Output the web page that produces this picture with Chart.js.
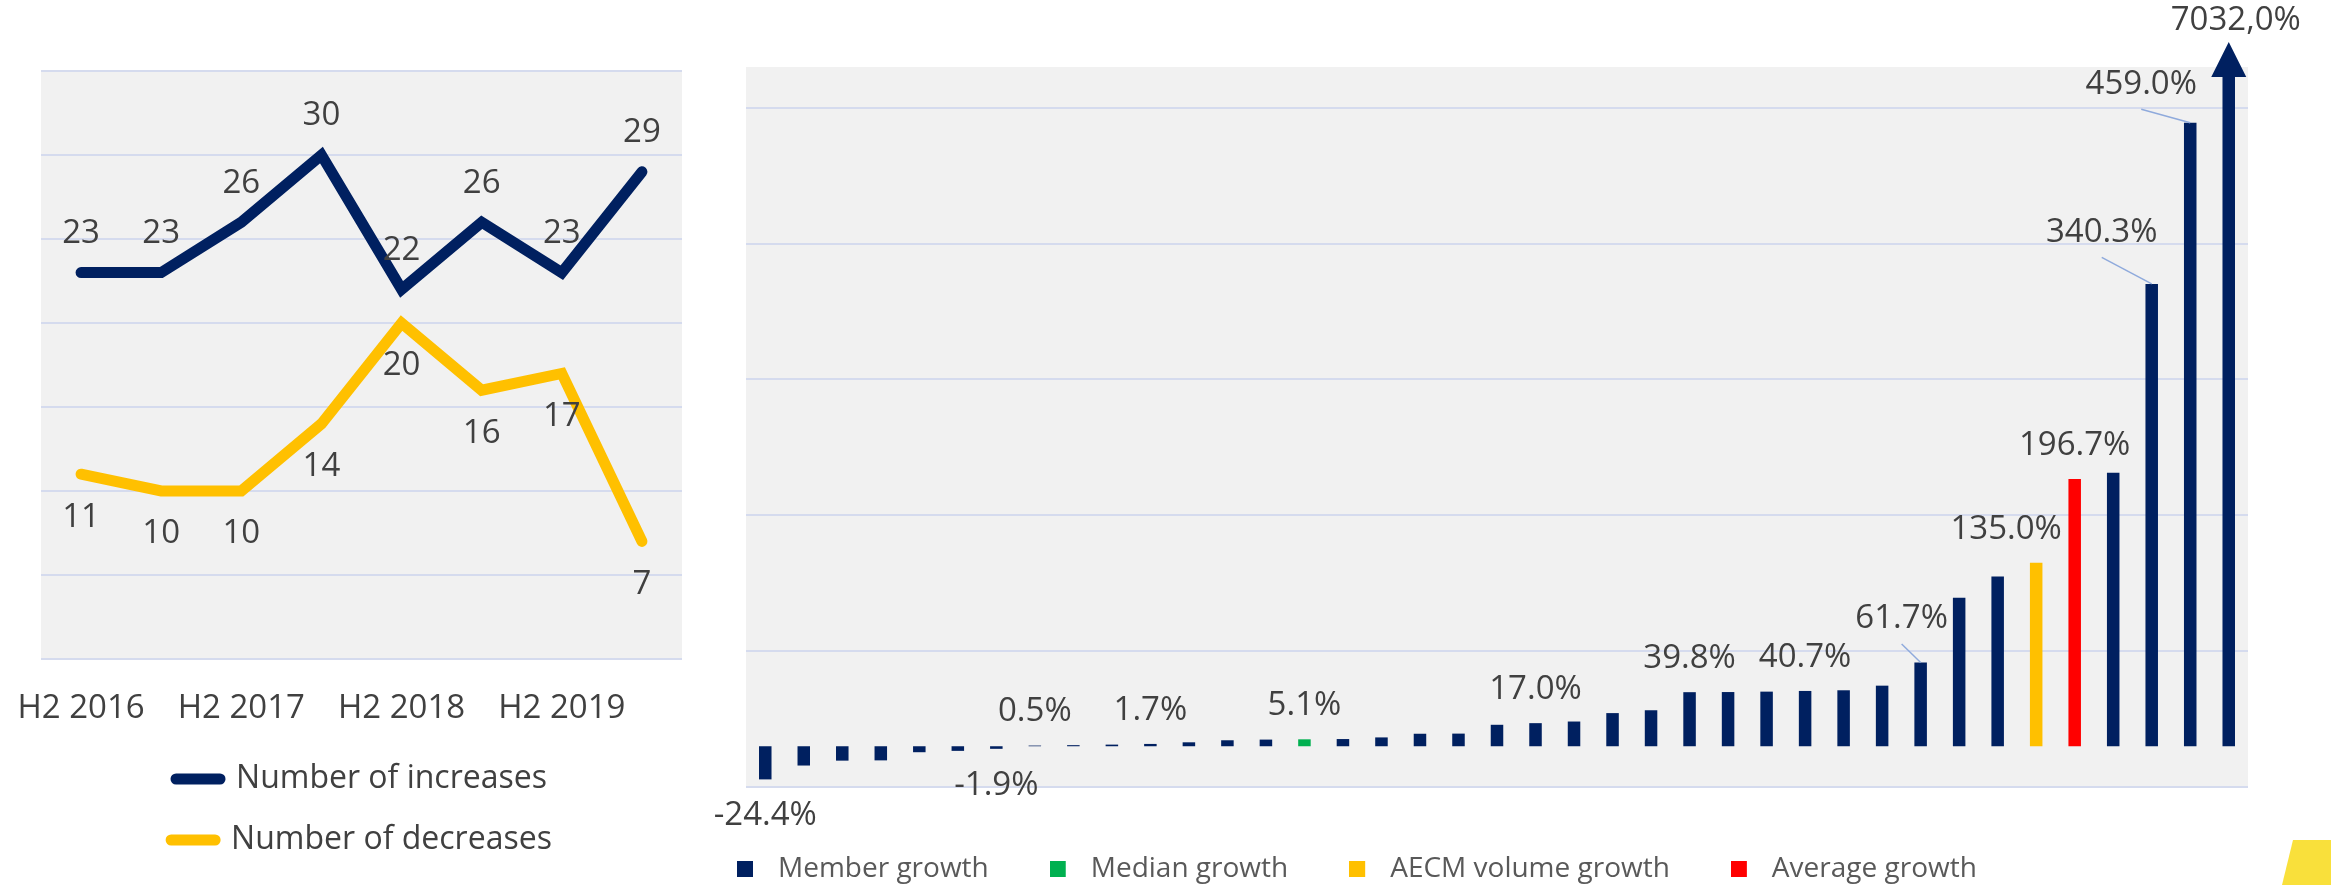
<!DOCTYPE html>
<html>
<head>
<meta charset="utf-8">
<title>Member growth overview</title>
<script src="https://cdn.jsdelivr.net/npm/chart.js@4.4.1/dist/chart.umd.min.js"></script>
<style>
  html, body { margin: 0; padding: 0; background: #ffffff; overflow: hidden; width: 2331px; height: 885px; }
  #trend { position: absolute; left: 0; top: 0; }
  #growth { position: absolute; left: 669px; top: 0; }
  .corner {
    position: absolute; left: 2282px; top: 840px; width: 49px; height: 45px;
    background: #F9E03B;
    clip-path: polygon(11px 0, 49px 0, 49px 45px, 0 45px);
  }
</style>
</head>
<body>
<canvas id="trend" width="700" height="885"></canvas>
<canvas id="growth" width="1662" height="900"></canvas>
<div class="corner"></div>
<script>
// ---- Half-year counts of increases / decreases ----
const halfYears = ['H2 2016', 'H1 2017', 'H2 2017', 'H1 2018', 'H2 2018', 'H1 2019', 'H2 2019', 'H1 2020'];
const increases = [23, 23, 26, 30, 22, 26, 23, 29];
const decreases = [11, 10, 10, 14, 20, 16, 17, 7];
const countTicks = [0, 5, 10, 15, 20, 25, 30, 35];

// ---- Growth per member, sorted ascending ----
const growthSeries = ['Member growth', 'Median growth', 'AECM volume growth', 'Average growth'];
const growthValues = [
  -24.4, -14.2, -10.6, -10.4, -4.4, -3.4, -1.9, 0.5, 0.8, 1.2,
  1.7, 2.9, 4.4, 4.9, 5.1, 5.3, 6.5, 9.2, 9.3, 15.8,
  17.0, 18.2, 24.4, 26.5, 39.8, 39.9, 40.2, 40.7, 41.2, 44.6,
  61.7, 109.4, 125.0, 135.0, 196.7, 201.4, 340.3, 459.0, 7032.0
];
// which series each bar belongs to (index into growthSeries)
const growthSeriesOf = [
  0, 0, 0, 0, 0, 0, 0, 0, 0, 0,
  0, 0, 0, 0, 1, 0, 0, 0, 0, 0,
  0, 0, 0, 0, 0, 0, 0, 0, 0, 0,
  0, 0, 0, 2, 3, 0, 0, 0, 0
];
const labelledBars = [0, 6, 7, 10, 14, 20, 24, 27, 30, 33, 34, 36, 37, 38];
const growthGridTicks = [-30, 70, 170, 270, 370, 470];
const growthRange = { min: -30, max: 500 };
const members = growthValues.map((_, i) => 'Member ' + (i + 1));

// ---- Styling ----
const NAVY = '#002060';
const GOLD = '#FFC000';
const seriesColors = [NAVY, '#00B050', GOLD, '#FF0000'];
const GRID = '#D5DBEE';
const PLOT_BG = '#F1F1F1';
const TEXT = '#404040';

Chart.defaults.font.family = "'Open Sans', 'DejaVu Sans', sans-serif";
Chart.defaults.color = TEXT;

// moved value labels (pixel nudges), some with a leader line back to the bar
const labelNudge = {
  30: { dx: -19, dy: -10, leader: true },
  33: { dx: -30, dy: 0 },
  36: { dx: -50, dy: -18, leader: true },
  37: { dx: -49, dy: -5, leader: true },
  38: { dx: 7, dy: 0 }
};

// legend swatches: a 16px square on the left of a wider transparent cell,
// so the legend text sits a little further from the square
const swatches = seriesColors.map(color => {
  const c = document.createElement('canvas');
  c.width = 27;
  c.height = 16;
  const g = c.getContext('2d');
  g.fillStyle = color;
  g.fillRect(0, 0, 16, 16);
  return c;
});

// grey plot area behind the gridlines
const plotBackground = {
  id: 'plotBackground',
  beforeDraw(chart) {
    const { ctx, chartArea: a } = chart;
    ctx.save();
    ctx.fillStyle = PLOT_BG;
    ctx.fillRect(a.left, a.top, a.right - a.left, a.bottom - a.top);
    ctx.restore();
  }
};

// value labels above / below each line point
const pointValueLabels = {
  id: 'pointValueLabels',
  afterDatasetsDraw(chart, args, opts) {
    const { ctx } = chart;
    ctx.save();
    ctx.font = opts.size + "px 'Open Sans', sans-serif";
    ctx.fillStyle = opts.color;
    ctx.textAlign = 'center';
    ctx.textBaseline = 'middle';
    chart.data.datasets.forEach((ds, d) => {
      const meta = chart.getDatasetMeta(d);
      const off = opts.offsets[d];
      meta.data.forEach((pt, i) => {
        ctx.fillText(String(ds.data[i]), pt.x, pt.y + off);
      });
    });
    ctx.restore();
  }
};

function formatPct(v, sep) {
  return v.toFixed(1).replace('.', sep) + '%';
}

// value labels on the highlighted bars, plus the arrow on bars beyond the scale
const barValueLabels = {
  id: 'barValueLabels',
  afterDatasetsDraw(chart, args, opts) {
    const { ctx, chartArea: area } = chart;
    const yScale = chart.scales.y;
    ctx.save();
    // arrow heads for bars running off the top of the scale
    growthValues.forEach((v, i) => {
      if (v <= yScale.max) return;
      const bar = chart.getDatasetMeta(growthSeriesOf[i]).data[i];
      ctx.fillStyle = seriesColors[growthSeriesOf[i]];
      ctx.beginPath();
      ctx.moveTo(bar.x, area.top - 25);
      ctx.lineTo(bar.x + 17.5, area.top + 10);
      ctx.lineTo(bar.x - 17.5, area.top + 10);
      ctx.closePath();
      ctx.fill();
    });
    ctx.font = opts.size + "px 'Open Sans', sans-serif";
    ctx.textAlign = 'center';
    ctx.textBaseline = 'middle';
    labelledBars.forEach(i => {
      const v = growthValues[i];
      const bar = chart.getDatasetMeta(growthSeriesOf[i]).data[i];
      const nudge = labelNudge[i] || { dx: 0, dy: 0 };
      const offScale = v > yScale.max;
      const top = Math.max(bar.y, area.top);
      const x = bar.x + nudge.dx;
      let y;
      if (offScale) {
        y = area.top - 46 + nudge.dy;
      } else if (v >= 0) {
        y = top - 33.5 + nudge.dy;
      } else {
        y = bar.y + 36.5 + nudge.dy;
      }
      if (nudge.leader) {
        ctx.strokeStyle = '#8FAADC';
        ctx.lineWidth = 1.5;
        ctx.beginPath();
        ctx.moveTo(x, y + 25);
        ctx.lineTo(bar.x, top);
        ctx.stroke();
      }
      ctx.fillStyle = opts.color;
      ctx.fillText(formatPct(v, offScale ? ',' : '.'), x, y);
    });
    ctx.restore();
  }
};

const defaultLegendLabels = Chart.defaults.plugins.legend.labels.generateLabels;

// ---- Left: counts per half-year ----
new Chart(document.getElementById('trend'), {
  type: 'line',
  data: {
    labels: halfYears,
    datasets: [
      {
        label: 'Number of increases',
        data: increases,
        borderColor: NAVY,
        backgroundColor: NAVY,
        borderWidth: 11,
        borderCapStyle: 'round',
        pointRadius: 0,
        tension: 0
      },
      {
        label: 'Number of decreases',
        data: decreases,
        borderColor: GOLD,
        backgroundColor: GOLD,
        borderWidth: 11,
        borderCapStyle: 'round',
        pointRadius: 0,
        tension: 0
      }
    ]
  },
  options: {
    responsive: false,
    animation: false,
    devicePixelRatio: 1,
    layout: { padding: { left: 41, right: 18, top: 71, bottom: 19 } },
    scales: {
      x: {
        offset: true,
        grid: { display: false, drawTicks: false },
        border: { display: false },
        ticks: {
          autoSkip: false,
          maxRotation: 0,
          padding: 30,
          color: TEXT,
          font: { size: 33 },
          callback(value, index) { return index % 2 === 0 ? this.getLabelForValue(value) : ''; }
        },
        afterFit(scale) {
          scale.height = 75;
          scale.paddingLeft = 0;
          scale.paddingRight = 0;
        }
      },
      y: {
        min: countTicks[0],
        max: countTicks[countTicks.length - 1],
        afterBuildTicks(scale) { scale.ticks = countTicks.map(v => ({ value: v })); },
        ticks: { display: false },
        grid: { color: GRID, lineWidth: 2, drawTicks: false },
        border: { display: false },
        afterFit(scale) { scale.width = 0; }
      }
    },
    plugins: {
      legend: {
        position: 'bottom',
        labels: {
          usePointStyle: true,
          pointStyle: 'line',
          pointStyleWidth: 44,
          padding: 29,
          color: TEXT,
          font: { size: 32 },
          generateLabels(chart) {
            return defaultLegendLabels(chart).map(item => Object.assign(item, { lineCap: 'round' }));
          }
        }
      },
      tooltip: { enabled: false },
      pointValueLabels: { size: 33, color: TEXT, offsets: [-39, 43] }
    }
  },
  plugins: [plotBackground, pointValueLabels]
});

// ---- Right: growth per member ----
const growthDatasets = growthSeries.map((name, s) => ({
  label: name,
  data: growthValues.map((v, i) => (growthSeriesOf[i] === s ? v : null)),
  backgroundColor: seriesColors[s],
  borderWidth: 0,
  grouped: false,
  barPercentage: 0.325,
  categoryPercentage: 1
}));

new Chart(document.getElementById('growth'), {
  type: 'bar',
  data: { labels: members, datasets: growthDatasets },
  options: {
    responsive: false,
    animation: false,
    devicePixelRatio: 1,
    layout: { padding: { left: 7, right: 83, top: 67, bottom: 7 } },
    scales: {
      x: {
        offset: true,
        grid: { display: false, drawTicks: false },
        border: { display: false },
        ticks: { display: false },
        afterFit(scale) { scale.height = 7; }
      },
      y: {
        min: growthRange.min,
        max: growthRange.max,
        afterBuildTicks(scale) { scale.ticks = growthGridTicks.map(v => ({ value: v })); },
        ticks: { display: false },
        grid: { color: GRID, lineWidth: 2, drawTicks: false },
        border: { display: false },
        afterFit(scale) { scale.width = 70; }
      }
    },
    plugins: {
      legend: {
        position: 'bottom',
        align: 'start',
        labels: {
          usePointStyle: true,
          pointStyleWidth: 27,
          boxHeight: 16,
          padding: 61,
          color: '#595959',
          font: { size: 28 },
          generateLabels(chart) {
            return defaultLegendLabels(chart).map(item =>
              Object.assign(item, { pointStyle: swatches[item.datasetIndex] }));
          }
        }
      },
      tooltip: { enabled: false },
      barValueLabels: { size: 33, color: TEXT }
    }
  },
  plugins: [plotBackground, barValueLabels]
});
</script>
</body>
</html>
